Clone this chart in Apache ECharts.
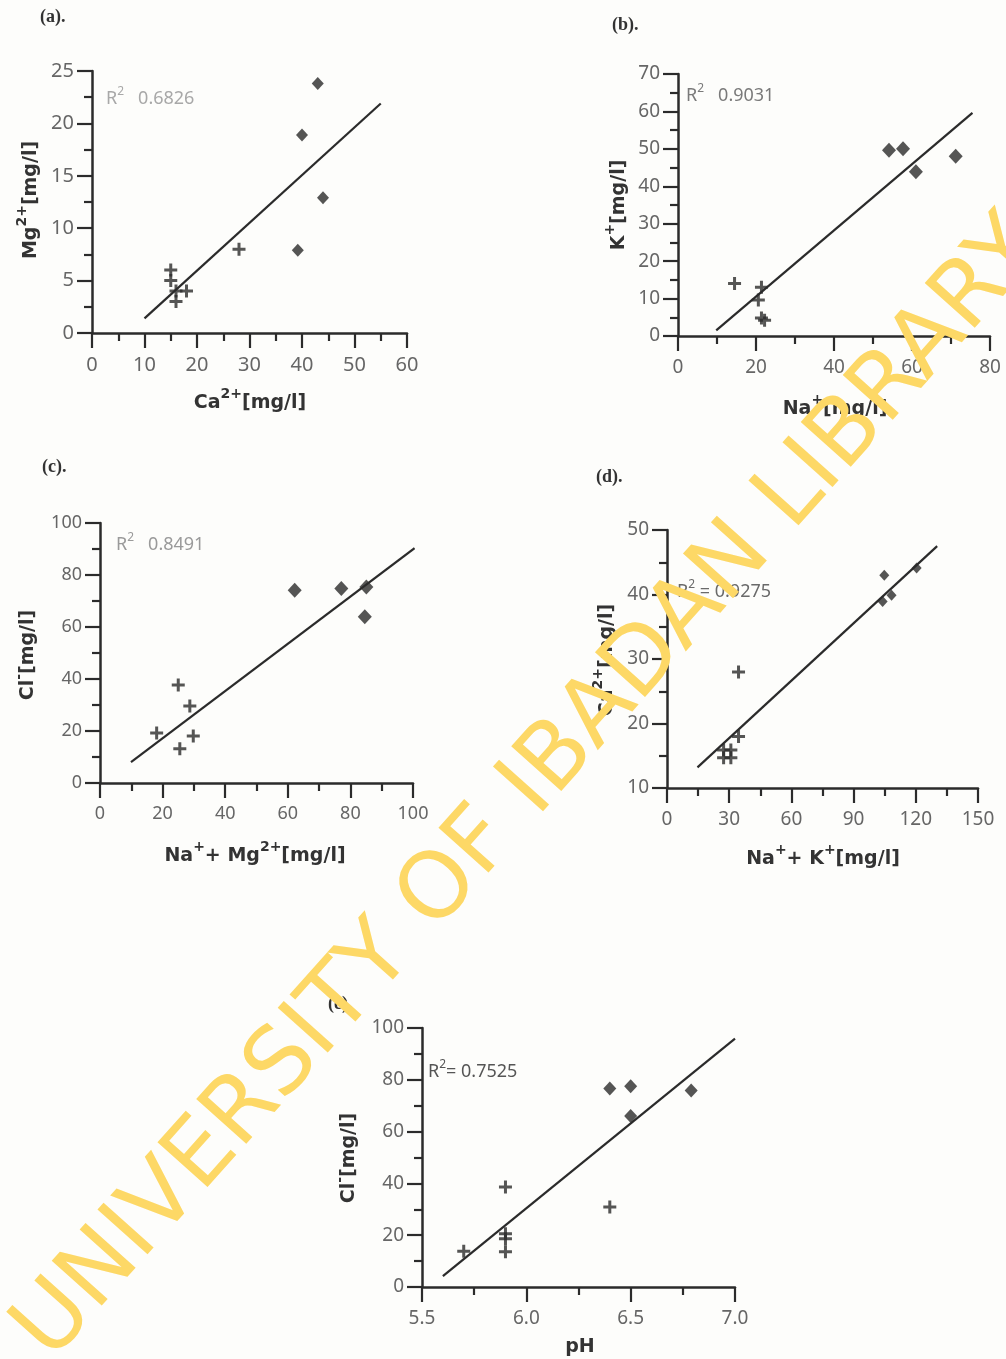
<!DOCTYPE html>
<html><head><meta charset="utf-8">
<script src="https://cdn.jsdelivr.net/npm/echarts@6/dist/echarts.min.js"></script>
<style>html,body{margin:0;padding:0;background:#fdfdfb}#c{width:1006px;height:1359px}</style>
</head><body><div id="c"></div>
<script>
// ---- data ----
// (a) Mg2+ vs Ca2+
const aPlus    = [[15,6],[15,5],[16,4],[18,4],[16,3],[28,8]];
const aDiamond = [[43,23.8],[40,18.9],[44,12.9],[39.2,7.9]];
const aFit     = [[10,1.4],[55,21.9]];
const aXAxis   = [0,60,10];
const aYAxis   = [0,25,5];
// (b) K+ vs Na+
const bPlus    = [[14.5,14],[21.4,13],[20.6,9.6],[21.4,4.8],[22.2,4.2]];
const bDiamond = [[54.1,49.6],[57.7,50],[61,43.9],[71.2,48]];
const bFit     = [[9.8,1.5],[75.5,59.6]];
const bXAxis   = [0,80,20];
const bYAxis   = [0,70,10];
// (c) Cl- vs Na+ + Mg2+
const cPlus    = [[25,37.7],[28.7,29.6],[18.1,19.2],[29.8,18.1],[25.5,13.2]];
const cDiamond = [[62.2,74.1],[77.1,74.8],[85.1,75.4],[84.6,63.9]];
const cFit     = [[9.9,8],[100.5,90.3]];
const cXAxis   = [0,100,20];
const cYAxis   = [0,100,20];
// (d) Ca2+ vs Na+ + K+
const dPlus    = [[34.5,28],[34.5,18],[27.3,15.9],[30.8,15.9],[27.3,14.7],[30.8,14.7]];
const dDiamond = [[104.8,43],[104,38.9],[108.3,39.9],[120.4,44.1]];
const dFit     = [[14.7,13.2],[130.3,47.5]];
const dXAxis   = [0,150,30];
const dYAxis   = [10,50,10];
// (e) Cl- vs pH
const ePlus    = [[5.7,13.8],[5.9,38.6],[5.9,20.6],[5.9,18.6],[5.9,13.6],[6.4,30.9]];
const eDiamond = [[6.4,76.6],[6.5,77.5],[6.5,66],[6.79,75.9]];
const eFit     = [[5.6,4.2],[7.0,95.9]];
const eXAxis   = [5.5,7.0,0.5];
const eYAxis   = [0,100,20];

const panelNames = ['(a).','(b).','(c).','(d).','(e).'];
const r2Values   = ['0.6826','0.9031','0.8491','0.9275','0.7525'];

// ---- layout / style ----
const INK = '#2b2b2b';
const LBL = '#666666';
const grids = [
  {left:92,  top:71,   width:315, height:262},
  {left:678, top:74,   width:312, height:262},
  {left:100, top:523,  width:313, height:260},
  {left:667, top:530,  width:311, height:258},
  {left:422, top:1028, width:313, height:259}
];
const xRanges = [aXAxis,bXAxis,cXAxis,dXAxis,eXAxis];
const yRanges = [aYAxis,bYAxis,cYAxis,dYAxis,eYAxis];
const labelSizes = [20,19,18,19,19];
const plusSets = [aPlus,bPlus,cPlus,dPlus,ePlus];
const diaSets  = [aDiamond,bDiamond,cDiamond,dDiamond,eDiamond];
const fitSets  = [aFit,bFit,cFit,dFit,eFit];
const diaSizes = [12,14,14,10,13];
const PLUS = 'path://M5,0H8V5H13V8H8V13H5V8H0V5H5Z';
const LFONT = "'DejaVu Sans ExtraLight', 'Noto Sans', sans-serif";

function axis(i, r, isX) {
  return {
    type:'value', gridIndex:i, min:r[0], max:r[1], interval:r[2],
    axisLine:{show:true, onZero:false, lineStyle:{color:INK, width:2.5}},
    axisTick:{show:true, length:15, lineStyle:{color:INK, width:2.2}},
    minorTick:{show:true, splitNumber:2, length:8, lineStyle:{color:INK, width:2.2}},
    splitLine:{show:false}, minorSplitLine:{show:false},
    axisLabel:{color:LBL, fontSize:labelSizes[i], fontFamily:LFONT,
      margin: isX ? 22 : 18,
      formatter: (i===4 && isX) ? (v => v.toFixed(1)) : (v => String(v))}
  };
}

const xAxes = [], yAxes = [], series = [];
for (let i=0;i<5;i++){
  xAxes.push(axis(i, xRanges[i], true));
  yAxes.push(axis(i, yRanges[i], false));
  series.push({type:'line', xAxisIndex:i, yAxisIndex:i, data:fitSets[i], symbol:'none',
    lineStyle:{color:INK, width:2.2}, silent:true, z:2});
  series.push({type:'scatter', xAxisIndex:i, yAxisIndex:i, data:plusSets[i], symbol:PLUS,
    symbolSize:13, itemStyle:{color:INK}, z:3});
  series.push({type:'scatter', xAxisIndex:i, yAxisIndex:i, data:diaSets[i], symbol:'diamond',
    symbolSize:[diaSizes[i], diaSizes[i]+1], itemStyle:{color:INK}, z:3});
}

const TF = 'DejaVu Sans';
const titleRich = {
  m:{fontSize:19, fontWeight:'bold', fontFamily:TF, fill:'#333', verticalAlign:'bottom', lineHeight:26},
  s:{fontSize:14, fontWeight:'bold', fontFamily:TF, fill:'#333', verticalAlign:'top', lineHeight:14}
};
function title(x, y, text, rot){
  return {type:'text', x:x, y:y, rotation:rot||0, z:20,
    style:{text:text, rich:titleRich, align:'center', verticalAlign:'middle'}};
}
const r2Rich = (c) => ({
  m:{fontSize:18, fontFamily:LFONT, fill:c, verticalAlign:'bottom', lineHeight:22},
  s:{fontSize:12, fontFamily:LFONT, fill:c, verticalAlign:'top', lineHeight:12}
});
function r2(x, y, text, c){
  return {type:'text', x:x, y:y, z:20,
    style:{text:text, rich:r2Rich(c), align:'left', verticalAlign:'middle'}};
}
function plabel(x, y, t){
  return {type:'text', x:x, y:y, z:20,
    style:{text:t, fontSize:18, fontWeight:'bold', fontFamily:'Liberation Serif', fill:'#333',
      align:'left', verticalAlign:'middle'}};
}
const V = Math.PI/2;
const graphic = [
  plabel(40,17,panelNames[0]), plabel(612,25,panelNames[1]), plabel(42,467,panelNames[2]),
  plabel(596,477,panelNames[3]), plabel(328,1004,panelNames[4]),
  title(28,200,'{m|Mg}{s|2+}{m|[mg/l]}',V),
  title(250,400,'{m|Ca}{s|2+}{m|[mg/l]}'),
  title(616,205,'{m|K}{s|+}{m|[mg/l]}',V),
  title(835,406,'{m|Na}{s|+}{m|[mg/l]}'),
  title(25,655,'{m|Cl}{s|-}{m|[mg/l]}',V),
  title(255,853,'{m|Na}{s|+}{m|+ Mg}{s|2+}{m|[mg/l]}'),
  title(604,660,'{m|Ca}{s|2+}{m|[mg/l]}',V),
  title(823,856,'{m|Na}{s|+}{m|+ K}{s|+}{m|[mg/l]}'),
  title(346,1158,'{m|Cl}{s|-}{m|[mg/l]}',V),
  title(580,1344,'{m|pH}'),
  r2(106,97,'{m|R}{s|2}{m|   '+r2Values[0]+'}','#a8a8a8'),
  r2(686,94,'{m|R}{s|2}{m|   '+r2Values[1]+'}','#7a7a7a'),
  r2(116,543,'{m|R}{s|2}{m|   '+r2Values[2]+'}','#9a9a9a'),
  r2(677,590,'{m|R}{s|2}{m| = '+r2Values[3]+'}','#6a6a6a'),
  r2(428,1070,'{m|R}{s|2}{m|= '+r2Values[4]+'}','#555'),
  {type:'text', x:530, y:790, rotation:0.842, z:100, silent:true,
    style:{text:'UNIVERSITY OF IBADAN LIBRARY', fontSize:92, fontFamily:'DejaVu Sans',
      fill:'#fdd866', align:'center', verticalAlign:'middle'}}
];

const chart = echarts.init(document.getElementById('c'));
chart.setOption({
  animation:false,
  backgroundColor:'#fdfdfb',
  grid: grids.map(g => Object.assign({outerBoundsMode:'none', containLabel:false}, g)),
  xAxis:xAxes, yAxis:yAxes, series:series, graphic:graphic
});
</script></body></html>
